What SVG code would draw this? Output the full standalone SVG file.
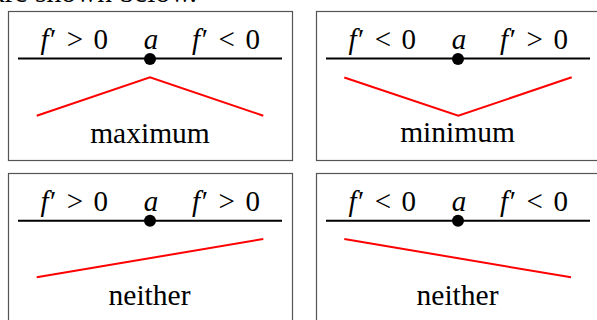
<svg xmlns="http://www.w3.org/2000/svg" width="597" height="320" viewBox="0 0 597 320">
<style>
.frame{fill:#fff;stroke:#555;stroke-width:1.2}
.axis{stroke:#000;stroke-width:2}
.curve{fill:none;stroke:#f00;stroke-width:2}
.lbl{font-family:"Liberation Serif",serif;font-size:29.5px;fill:#000}
.sign{font-family:"Liberation Serif",serif;font-size:29px;fill:#000}
.it{font-style:italic}
</style>
<rect width="597" height="320" fill="#fff"/>
<text class="lbl" x="197" y="1.5" text-anchor="end">cases are shown below.</text>
<g id="box-maximum">
<rect class="frame" x="8.5" y="11.5" width="284" height="149"/>
<line class="axis" x1="18" y1="58.5" x2="282" y2="58.5"/>
<circle cx="150" cy="59" r="6"/>
<text class="sign" x="40.5" y="48.5" textLength="67.5" lengthAdjust="spacing"><tspan class="it">f</tspan>′ &gt; 0</text>
<text class="sign it" x="151" y="48.5" text-anchor="middle">a</text>
<text class="sign" x="192" y="48.5" textLength="68" lengthAdjust="spacing"><tspan class="it">f</tspan>′ &lt; 0</text>
<polyline class="curve" points="36.7,115.7 150,77.3 263.3,115.7"/>
<text class="lbl" x="150" y="142.7" text-anchor="middle">maximum</text>
</g>
<g id="box-minimum">
<rect class="frame" x="316.5" y="11.5" width="284" height="149"/>
<line class="axis" x1="326" y1="58.5" x2="590" y2="58.5"/>
<circle cx="458" cy="59" r="6"/>
<text class="sign" x="348.5" y="48.5" textLength="67.5" lengthAdjust="spacing"><tspan class="it">f</tspan>′ &lt; 0</text>
<text class="sign it" x="459" y="48.5" text-anchor="middle">a</text>
<text class="sign" x="500" y="48.5" textLength="68" lengthAdjust="spacing"><tspan class="it">f</tspan>′ &gt; 0</text>
<polyline class="curve" points="344.3,77.5 458.3,115.7 571.7,77.3"/>
<text class="lbl" x="457.5" y="141.7" text-anchor="middle">minimum</text>
</g>
<g id="box-neither-increasing">
<rect class="frame" x="8.5" y="173.5" width="284" height="149"/>
<line class="axis" x1="18" y1="220.7" x2="282" y2="220.7"/>
<circle cx="150" cy="220.7" r="6"/>
<text class="sign" x="40.5" y="210.7" textLength="67.5" lengthAdjust="spacing"><tspan class="it">f</tspan>′ &gt; 0</text>
<text class="sign it" x="151" y="210.7" text-anchor="middle">a</text>
<text class="sign" x="192" y="210.7" textLength="68" lengthAdjust="spacing"><tspan class="it">f</tspan>′ &gt; 0</text>
<line class="curve" x1="36.7" y1="277.3" x2="263.3" y2="239"/>
<text class="lbl" x="149.5" y="305" text-anchor="middle">neither</text>
</g>
<g id="box-neither-decreasing">
<rect class="frame" x="316.5" y="173.5" width="284" height="149"/>
<line class="axis" x1="326" y1="220.7" x2="590" y2="220.7"/>
<circle cx="458" cy="220.7" r="6"/>
<text class="sign" x="348.5" y="210.7" textLength="67.5" lengthAdjust="spacing"><tspan class="it">f</tspan>′ &lt; 0</text>
<text class="sign it" x="459" y="210.7" text-anchor="middle">a</text>
<text class="sign" x="500" y="210.7" textLength="68" lengthAdjust="spacing"><tspan class="it">f</tspan>′ &lt; 0</text>
<line class="curve" x1="344.3" y1="239" x2="571" y2="277.3"/>
<text class="lbl" x="457.5" y="305" text-anchor="middle">neither</text>
</g>
<g id="connectors"></g>
</svg>
